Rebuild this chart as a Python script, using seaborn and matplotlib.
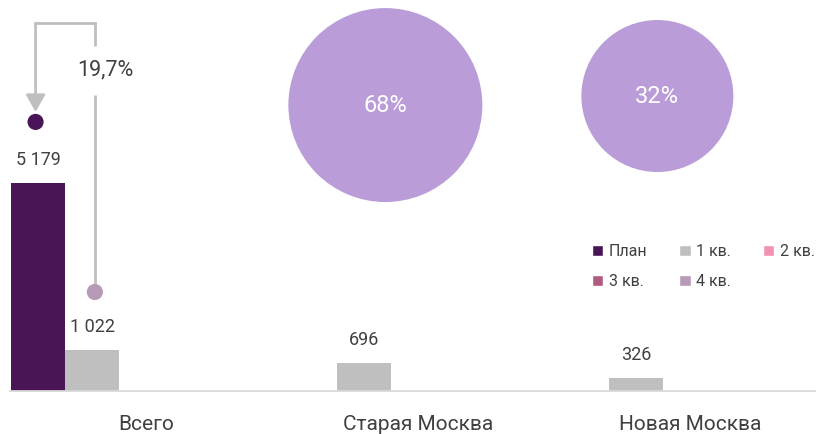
import matplotlib
matplotlib.use("Agg")
import matplotlib.pyplot as plt
from matplotlib.patches import Patch
import seaborn as sns
import pandas as pd

# ---------------------------------------------------------------------------
# Data
# ---------------------------------------------------------------------------
categories = ["Всего", "Старая Москва", "Новая Москва"]
series = ["План", "1 кв.", "2 кв.", "3 кв.", "4 кв."]
plan_values = [5179, 0, 0]
q1_values = [1022, 696, 326]
q2_values = [0, 0, 0]
q3_values = [0, 0, 0]
q4_values = [0, 0, 0]

# bubbles: share of the total for each part of the city
bubble_cats = ["Старая Москва", "Новая Москва"]
bubble_share = [68, 32]
bubble_y = [7120, 7345]

# markers for the plan/fact comparison arrow
plan_marker_y = 6700
fact_marker_y = 2465
fact_pct = "19,7%"

COLORS = {
    "План": "#4A1556",
    "1 кв.": "#BFBFBF",
    "2 кв.": "#F391B0",
    "3 кв.": "#B05A80",
    "4 кв.": "#B69AB8",
}
BUBBLE_COLOR = "#B99CD8"
TEXT_COLOR = "#404040"
LINE_COLOR = "#BFBFBF"

sns.set_style("white")
plt.rcParams["font.family"] = ["Roboto", "DejaVu Sans"]

# long-form table for seaborn
values = [plan_values, q1_values, q2_values, q3_values, q4_values]
rows = []
for s, vals in zip(series, values):
    for c, v in zip(categories, vals):
        rows.append({"category": c, "series": s, "value": v})
df = pd.DataFrame(rows)

fig = plt.figure(figsize=(8.16, 4.34), dpi=100)
ax = fig.add_axes([10 / 816, 43 / 434, 816 / 816, 391 / 434])

sns.barplot(data=df, x="category", y="value", hue="series",
            order=categories, hue_order=series, palette=COLORS,
            saturation=1, width=0.99, errorbar=None, legend=False, ax=ax,
            linewidth=0)

ax.set_xlim(-0.5, 2.5)
ax.set_ylim(0, 9736)

# data labels
for cont, vals in zip(ax.containers, values):
    labels = [f"{v:,}".replace(",", " ") if v else "" for v in vals]
    ax.bar_label(cont, labels=labels, padding=10, fontsize=13,
                 color=TEXT_COLOR)

# bar centres of the first category (for markers/arrow)
plan_bar = ax.containers[0].patches[0]
fact_bar = ax.containers[1].patches[0]
x_plan = plan_bar.get_x() + plan_bar.get_width() / 2 - 0.01
x_fact = fact_bar.get_x() + fact_bar.get_width() / 2 + 0.01

# connector: fact marker -> up -> left -> arrow down to plan marker
top_y = 9163
ax.plot([x_fact, x_fact], [fact_marker_y + 200, 7370], color=LINE_COLOR,
        lw=2, solid_capstyle="butt", zorder=2)
ax.plot([x_fact, x_fact, x_plan], [8615, top_y, top_y], color=LINE_COLOR,
        lw=2, solid_joinstyle="miter", zorder=2)
ax.annotate("", xy=(x_plan, 6947), xytext=(x_plan, top_y),
            arrowprops=dict(arrowstyle="-|>,head_length=0.8,head_width=0.45",
                            color=LINE_COLOR, lw=2, shrinkA=0, shrinkB=0,
                            mutation_scale=13), zorder=2)
ax.text(x_fact - 0.065, 7990, fact_pct, fontsize=15.5, color=TEXT_COLOR,
        ha="left", va="center")

marker_df = pd.DataFrame({"x": [x_plan, x_fact],
                          "y": [plan_marker_y, fact_marker_y],
                          "series": ["План", "4 кв."]})
sns.scatterplot(data=marker_df, x="x", y="y", hue="series", palette=COLORS,
                s=135, linewidth=0, legend=False, ax=ax, zorder=3)

# bubbles
bub_df = pd.DataFrame({"x": [categories.index(c) - 0.12 for c in bubble_cats],
                       "y": bubble_y, "share": bubble_share})
sns.scatterplot(data=bub_df, x="x", y="y", size="share",
                sizes=(11980, 19500), color=BUBBLE_COLOR, linewidth=0,
                legend=False, ax=ax, zorder=1)
for bx, by, share in zip(bub_df["x"], bub_df["y"], bubble_share):
    ax.text(bx, by, f"{share}%", color="white", fontsize=17,
            ha="center", va="center")

# axes styling
for side in ("top", "right", "left"):
    ax.spines[side].set_visible(False)
ax.spines["bottom"].set_color("#D9D9D9")
ax.spines["bottom"].set_linewidth(1.3)
ax.set_yticks([])
ax.set_xlabel("")
ax.set_ylabel("")
ax.set_xticks(range(len(categories)))
ax.set_xticklabels(categories, fontsize=15, color=TEXT_COLOR)
ax.tick_params(axis="x", length=0, pad=17)

# legend, row-major like the original (3 columns)
order = [0, 3, 1, 4, 2]
handles = [Patch(facecolor=COLORS[series[i]], label=series[i]) for i in order]
fig.legend(handles=handles, ncol=3, loc="upper left",
           bbox_to_anchor=(592 / 816, (434 - 244) / 434), frameon=False,
           fontsize=11.5, handlelength=0.7, handleheight=0.7,
           handletextpad=0.35, columnspacing=2.0, labelspacing=0.95,
           borderpad=0, borderaxespad=0, labelcolor=TEXT_COLOR)

fig.savefig("out.png", dpi=100)
